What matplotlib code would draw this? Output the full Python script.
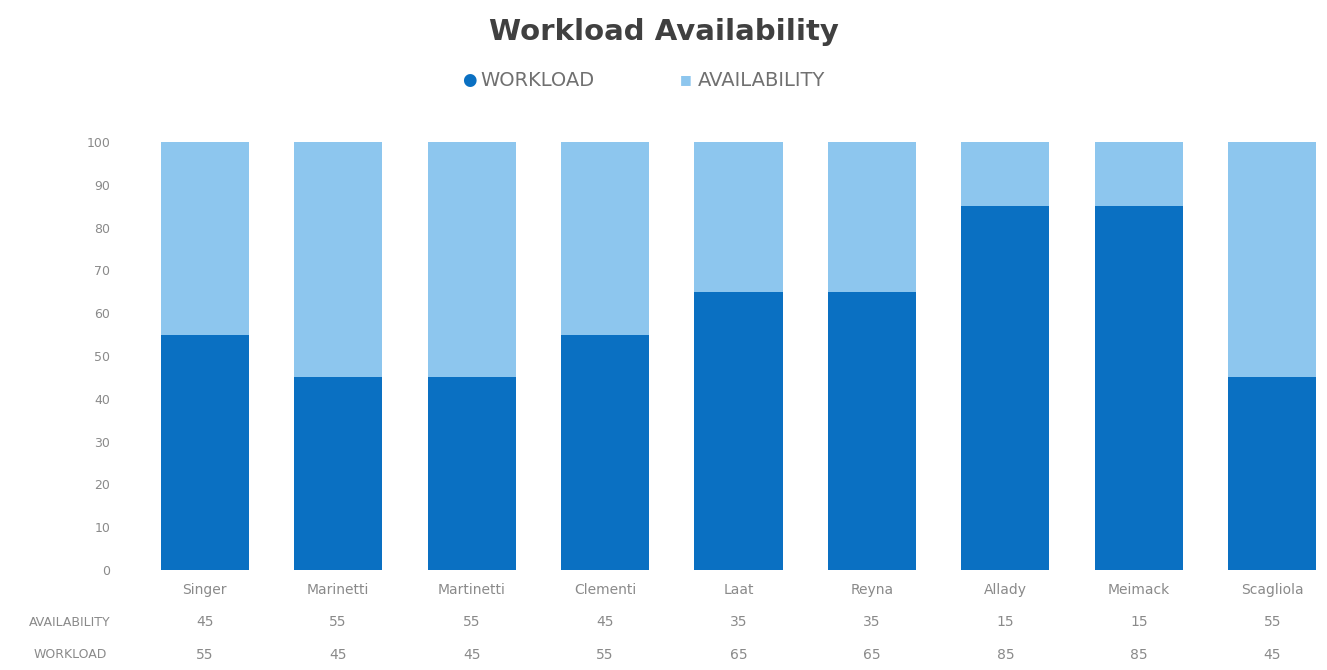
import matplotlib.pyplot as plt
import numpy as np

# team members and their split between workload and free capacity (%)
names = ['Singer', 'Marinetti', 'Martinetti', 'Clementi', 'Laat',
         'Reyna', 'Allady', 'Meimack', 'Scagliola']
workload = [55, 45, 45, 55, 65, 65, 85, 85, 45]
availability = [45, 55, 55, 45, 35, 35, 15, 15, 55]

dark_blue = '#0A70C2'
light_blue = '#8DC6EE'
text_grey = '#8A8A8A'

fig = plt.figure(figsize=(13.27, 6.70), dpi=100)
ax = fig.add_axes([138 / 1327, 1 - 570 / 670, (1327 - 138) / 1327, 428 / 670])

x = np.arange(len(names))
ax.bar(x, workload, width=0.66, color=dark_blue)
ax.bar(x, availability, width=0.66, bottom=workload, color=light_blue)

ax.set_xlim(-0.5, 8.41)
ax.set_ylim(0, 100)
ax.set_yticks(range(0, 101, 10))
ax.tick_params(axis='y', length=0, labelsize=9, labelcolor=text_grey, pad=20)
ax.set_xticks([])
for s in ax.spines.values():
    s.set_visible(False)

# data table under the bars
trans = ax.get_xaxis_transform()
for i in x:
    ax.text(i, -20 / 428, names[i], transform=trans, ha='center', va='center',
            fontsize=10, color=text_grey)
    ax.text(i, -52 / 428, str(availability[i]), transform=trans, ha='center',
            va='center', fontsize=10, color=text_grey)
    ax.text(i, -85 / 428, str(workload[i]), transform=trans, ha='center',
            va='center', fontsize=10, color=text_grey)
fig.text(70 / 1327, 1 - 622 / 670, 'AVAILABILITY', ha='center', va='center',
         fontsize=9, color=text_grey)
fig.text(70 / 1327, 1 - 655 / 670, 'WORKLOAD', ha='center', va='center',
         fontsize=9, color=text_grey)

fig.text(0.5, 1 - 32 / 670, 'Workload Availability', ha='center', va='center',
         fontsize=21, fontweight='bold', color='#404040')

# legend
fig.text(469 / 1327, 1 - 80 / 670, '\u25cf', ha='center', va='center',
         fontsize=12, color=dark_blue)
fig.text(480 / 1327, 1 - 80 / 670, 'WORKLOAD', ha='left', va='center',
         fontsize=14, color='#707070')
fig.text(686 / 1327, 1 - 80 / 670, '\u25a0', ha='center', va='center',
         fontsize=9, color=light_blue)
fig.text(698 / 1327, 1 - 80 / 670, 'AVAILABILITY', ha='left', va='center',
         fontsize=14, color='#707070')

fig.savefig('out.png', dpi=100, facecolor='white')
